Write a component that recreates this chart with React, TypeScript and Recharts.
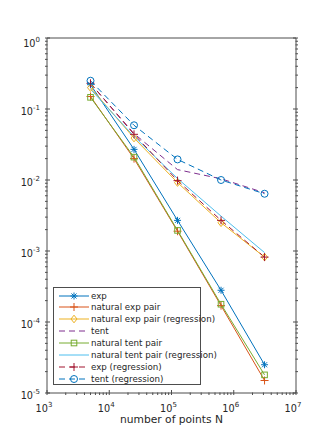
import { LineChart, Line, XAxis, YAxis, Legend } from "recharts";

// number of points and the error of each method
const pointsN = [5000, 25000, 125000, 625000, 3125000];
const expErr = [0.22, 0.027, 0.0027, 0.00028, 0.000025];
const natExpPair = [0.15, 0.02, 0.0019, 0.00017, 0.000015];
const natExpPairReg = [0.2, 0.039, 0.0092, 0.0025, 0.00082];
const tentErr = [0.23, 0.045, 0.014, 0.0104, 0.0066];
const natTentPair = [0.146, 0.021, 0.00195, 0.000178, 0.000018];
const natTentPairReg = [0.19, 0.041, 0.0105, 0.0031, 0.00095];
const expReg = [0.23, 0.044, 0.0098, 0.0027, 0.00082];
const tentReg = [0.25, 0.059, 0.0195, 0.01, 0.0064];

const xDecades = [3, 4, 5, 6, 7];
const yDecades = [-5, -4, -3, -2, -1, 0];

const withMinor = (decades: number[]) => {
  const out: number[] = [];
  decades.forEach((d, i) => {
    out.push(Math.pow(10, d));
    if (i < decades.length - 1) for (let m = 2; m <= 9; m++) out.push(m * Math.pow(10, d));
  });
  return out;
};
const xTicks = withMinor(xDecades);
const yTicks = withMinor(yDecades);

const data = pointsN.map((n, i) => ({
  N: n,
  exp: expErr[i],
  natExp: natExpPair[i],
  natExpReg: natExpPairReg[i],
  tent: tentErr[i],
  natTent: natTentPair[i],
  natTentReg: natTentPairReg[i],
  expReg: expReg[i],
  tentReg: tentReg[i],
}));

const AX = "#4d4d4d";
const TXT = "#262626";
const FONT = "'DejaVu Sans', sans-serif";

type Marker = "star" | "plus" | "diamond" | "square" | "circle" | "none";

const series: { key: string; name: string; color: string; marker: Marker; dashed: boolean }[] = [
  { key: "exp", name: "exp", color: "#0072BD", marker: "star", dashed: false },
  { key: "natExp", name: "natural exp pair", color: "#D95319", marker: "plus", dashed: false },
  { key: "natExpReg", name: "natural exp pair (regression)", color: "#EDB120", marker: "diamond", dashed: false },
  { key: "tent", name: "tent", color: "#7E2F8E", marker: "none", dashed: true },
  { key: "natTent", name: "natural tent pair", color: "#77AC30", marker: "square", dashed: false },
  { key: "natTentReg", name: "natural tent pair (regression)", color: "#4DBEEE", marker: "none", dashed: false },
  { key: "expReg", name: "exp (regression)", color: "#A2142F", marker: "plus", dashed: true },
  { key: "tentReg", name: "tent (regression)", color: "#0072BD", marker: "circle", dashed: true },
];

function MarkerShape({ type, cx, cy, color }: { type: Marker; cx: number; cy: number; color: string }) {
  const r = 3.5;
  if (type === "star") {
    const d = r * 0.72;
    return (
      <g stroke={color} strokeWidth={1}>
        <line x1={cx - r} y1={cy} x2={cx + r} y2={cy} />
        <line x1={cx} y1={cy - r} x2={cx} y2={cy + r} />
        <line x1={cx - d} y1={cy - d} x2={cx + d} y2={cy + d} />
        <line x1={cx - d} y1={cy + d} x2={cx + d} y2={cy - d} />
      </g>
    );
  }
  if (type === "plus") {
    return (
      <g stroke={color} strokeWidth={1}>
        <line x1={cx - 4} y1={cy} x2={cx + 4} y2={cy} />
        <line x1={cx} y1={cy - 4} x2={cx} y2={cy + 4} />
      </g>
    );
  }
  if (type === "diamond") {
    return (
      <polygon
        points={`${cx},${cy - 3.8} ${cx + 3},${cy} ${cx},${cy + 3.8} ${cx - 3},${cy}`}
        fill="none"
        stroke={color}
      />
    );
  }
  if (type === "square") {
    return <rect x={cx - 2.8} y={cy - 2.8} width={5.6} height={5.6} fill="none" stroke={color} />;
  }
  if (type === "circle") {
    return <circle cx={cx} cy={cy} r={3.5} fill="none" stroke={color} />;
  }
  return <g />;
}

const isDecade = (v: number) => Math.abs(Math.log10(v) - Math.round(Math.log10(v))) < 1e-9;

function BottomTick({ x, y, payload }: any) {
  const v = payload.value;
  const major = isDecade(v);
  return (
    <g>
      <line x1={x} x2={x} y1={y} y2={y - (major ? 5 : 2.5)} stroke={AX} />
      {major && (
        <text x={x - 3} y={y + 17} textAnchor="middle" fontSize={9.7} fill={TXT} fontFamily={FONT}>
          <tspan>10</tspan>
          <tspan dy={-5} fontSize={7}>{Math.round(Math.log10(v))}</tspan>
        </text>
      )}
    </g>
  );
}

function TopTick({ x, y, payload }: any) {
  const major = isDecade(payload.value);
  return <line x1={x} x2={x} y1={y} y2={y + (major ? 5 : 2.5)} stroke={AX} />;
}

function LeftTick({ x, y, payload }: any) {
  const v = payload.value;
  const major = isDecade(v);
  const e = Math.round(Math.log10(v));
  return (
    <g>
      <line x1={x} x2={x + (major ? 5 : 2.5)} y1={y} y2={y} stroke={AX} />
      {major && (
        <text x={x - 5} y={y + 5.5 + (e === 0 ? 3 : 0)} textAnchor="end" fontSize={9.7} fill={TXT} fontFamily={FONT}>
          <tspan>10</tspan>
          <tspan dy={-5} fontSize={7}>{e}</tspan>
        </text>
      )}
    </g>
  );
}

function RightTick({ x, y, payload }: any) {
  const major = isDecade(payload.value);
  return <line x1={x} x2={x - (major ? 5 : 2.5)} y1={y} y2={y} stroke={AX} />;
}

function LegendBox() {
  return (
    <div
      style={{
        position: "relative",
        width: 148,
        height: 98,
        boxSizing: "border-box",
        border: `1px solid ${AX}`,
        background: "#fff",
        fontFamily: FONT,
        fontSize: 8.7,
        color: TXT,
      }}
    >
      {series.map((s, i) => (
        <div
          key={s.key}
          style={{ position: "absolute", left: 4, top: 1.5 + i * 11.9, height: 12, display: "flex", alignItems: "center", whiteSpace: "nowrap" }}
        >
          <svg width={32} height={12} style={{ display: "block" }}>
            <line x1={1} x2={31} y1={6} y2={6} stroke={s.color} strokeDasharray={s.dashed ? "6 4" : undefined} />
            <MarkerShape type={s.marker} cx={16} cy={6} color={s.color} />
          </svg>
          <span style={{ marginLeft: 1 }}>{s.name}</span>
        </div>
      ))}
    </div>
  );
}

export default function App() {
  return (
    <div style={{ position: "absolute", left: 0, top: 0, width: 332, height: 446, background: "#fff" }}>
      <LineChart width={332} height={446} data={data} margin={{ top: 37, right: 35, bottom: 52, left: 46 }}>
        <XAxis
          dataKey="N"
          type="number"
          scale="log"
          domain={[1e3, 1e7]}
          ticks={xTicks}
          interval={0}
          allowDataOverflow
          height={1}
          tickSize={0}
          tickLine={false}
          axisLine={{ stroke: AX }}
          tick={(p: any) => <BottomTick {...p} />}
          label={{ value: "number of points N", position: "bottom", offset: 21, fontSize: 10.7, fill: TXT, fontFamily: FONT }}
        />
        <XAxis
          xAxisId="top"
          orientation="top"
          type="number"
          scale="log"
          domain={[1e3, 1e7]}
          ticks={xTicks}
          interval={0}
          allowDataOverflow
          height={1}
          tickSize={0}
          tickLine={false}
          axisLine={{ stroke: AX }}
          tick={(p: any) => <TopTick {...p} />}
        />
        <YAxis
          type="number"
          scale="log"
          domain={[1e-5, 1]}
          ticks={yTicks}
          interval={0}
          allowDataOverflow
          width={1}
          tickSize={0}
          tickLine={false}
          axisLine={{ stroke: AX }}
          tick={(p: any) => <LeftTick {...p} />}
        />
        <YAxis
          yAxisId="right"
          orientation="right"
          type="number"
          scale="log"
          domain={[1e-5, 1]}
          ticks={yTicks}
          interval={0}
          allowDataOverflow
          width={1}
          tickSize={0}
          tickLine={false}
          axisLine={{ stroke: AX }}
          tick={(p: any) => <RightTick {...p} />}
        />
        {series.map((s) => (
          <Line
            key={s.key}
            dataKey={s.key}
            name={s.name}
            stroke={s.color}
            strokeWidth={1}
            strokeDasharray={s.dashed ? "6 4" : undefined}
            isAnimationActive={false}
            dot={(p: any) => <MarkerShape key={p.index} type={s.marker} cx={p.cx} cy={p.cy} color={s.color} />}
            activeDot={false}
          />
        ))}
        <Legend
          layout="vertical"
          align="center"
          verticalAlign="middle"
          content={() => <LegendBox />}
          wrapperStyle={{ position: "absolute", left: 53, top: 287, width: 148, height: 98 }}
        />
      </LineChart>
    </div>
  );
}
